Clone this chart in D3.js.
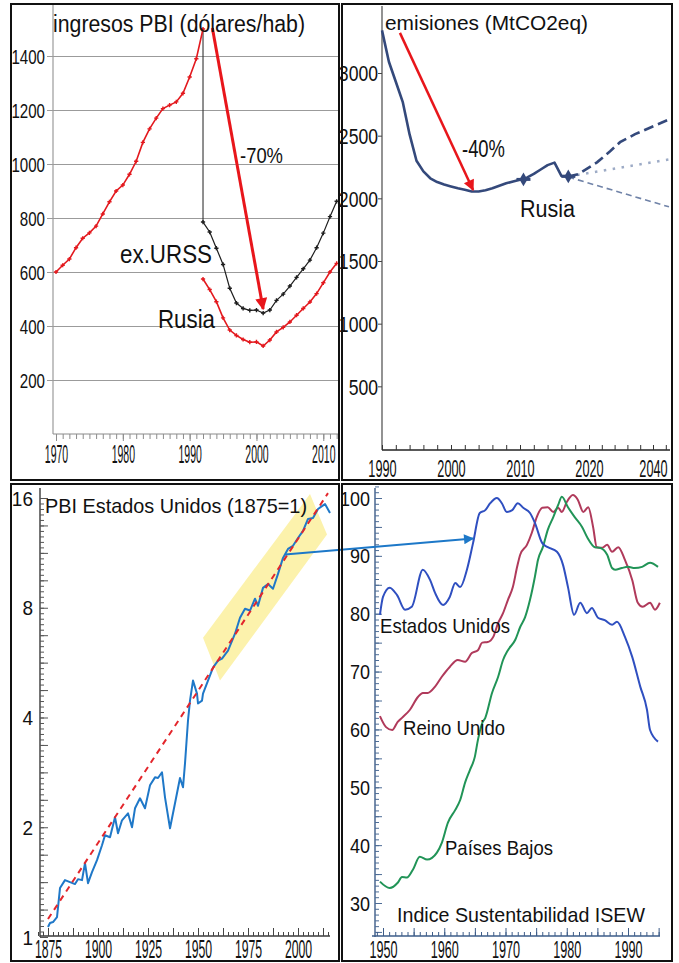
<!DOCTYPE html>
<html><head><meta charset="utf-8">
<script src="https://cdn.jsdelivr.net/npm/d3@7"></script>
<style>body{margin:0;background:#fff}svg{display:block}</style>
</head><body><svg id="c" width="679" height="963"></svg>
<script>
// ---------------- DATA ----------------
// Panel 1: ingresos PBI (dólares/hab)
const ussrYears = [1970,1971,1972,1973,1974,1975,1976,1977,1978,1979,1980,1981,1982,1983,1984,1985,1986,1987,1988,1989,1990,1991,1992];
const ussrGDP   = [600,625,648,690,725,745,770,815,860,900,922,962,1010,1080,1130,1170,1205,1218,1230,1262,1322,1390,1500];
const exUrssYears = [1992,1993,1994,1995,1996,1997,1998,1999,2000,2001,2002,2003,2004,2005,2006,2007,2008,2009,2010,2011,2012];
const exUrssGDP   = [785,748,688,628,540,485,465,458,459,448,459,495,518,548,580,612,644,690,744,805,862];
const rusYears = [1992,1993,1994,1995,1996,1997,1998,1999,2000,2001,2002,2003,2004,2005,2006,2007,2008,2009,2010,2011,2012];
const rusGDP   = [574,535,490,430,385,365,350,340,341,326,348,378,395,415,440,465,489,520,560,600,632];
const tlYTicks = [200,400,600,800,1000,1200,1400];
const tlXTicks = [1970,1980,1990,2000,2010];
const tlArrow = [[1993.4,1504],[2001,463]];

// Panel 2: emisiones (MtCO2eq)
const emisYears = [1990,1991,1992,1993,1994,1995,1996,1997,1998,1999,2000,2001,2002,2003,2004,2005,2006,2007,2008,2009,2010,2011,2012,2013,2014,2015,2016,2017];
const emisValues = [3340,3090,2930,2770,2510,2300,2215,2160,2130,2110,2095,2080,2068,2055,2055,2065,2080,2100,2120,2135,2148,2165,2195,2230,2265,2285,2180,2175];
const emisMarkYears = [2010.5,2017];
const emisMarkValues = [2151,2175];
const projHighYears = [2017,2018.4,2022.5,2026.6,2029.7,2034.4,2045];
const projHighValues = [2175,2191,2287,2376,2448,2512,2630];
const projMidYears = [2017,2045];
const projMidValues = [2175,2310];
const projLowYears = [2017,2045];
const projLowValues = [2170,1932];
const trYTicks = [500,1000,1500,2000,2500,3000];
const trXTicks = [1990,2000,2010,2020,2040];
const trArrow = [[1992.6,3320],[2003.2,2067]];

// Panel 3: PBI Estados Unidos (1875=1)
const usGdpYears = [1875,1876,1877.5,1879.5,1881,1883.5,1886,1888.5,1890,1892,1893.5,1895,1897,1899.5,1902,1903.5,1906,1908.5,1910,1912,1915,1917,1918.5,1921,1923.5,1926,1928.5,1930,1932,1933.5,1936,1938.5,1941,1942.5,1943.5,1945,1946,1947.5,1949.5,1950,1952,1952.5,1955,1957.5,1960,1962,1965,1968.5,1971,1973.5,1976,1978.5,1980,1982.5,1985,1987.5,1990,1992.5,1995,1997.5,2000,2002.5,2005,2007.5,2010,2012,2013.5,2016];
const usGdpValues = [1.065,1.092,1.099,1.134,1.362,1.432,1.414,1.397,1.441,1.432,1.594,1.405,1.506,1.625,1.785,1.901,1.878,2.13,1.926,2.09,2.184,2.0,2.254,2.401,2.254,2.606,2.741,2.73,2.83,2.416,1.987,2.327,2.73,2.574,2.993,3.925,4.45,5.05,4.65,4.37,4.45,4.65,5.05,5.48,5.73,5.8,6.1,6.79,7.51,7.95,7.86,8.47,8.1,9.07,9.3,9.02,9.91,10.96,11.6,11.83,12.43,13.0,14.02,14.1,14.93,15.2,15.4,14.56];
const trendYears = [1875,2015];
const trendValues = [1.12,16.5];
const bandYears = [1952.5,2006,2014.5,1961];
const bandValues = [6.62,16.4,12.7,5.05];
const blYTicks = [1,2,4,8,16];
const blXTicks = [1875,1900,1925,1950,1975,2000];
const linkFrom = [1993.5,11.2];   // point on US GDP
const linkTo = [1964.7,93];       // point on US ISEW

// Panel 4: Indice Sustentabilidad ISEW
const isewUSYears = [1949.5,1950,1951.1,1952.3,1953.6,1954.7,1956.5,1957.7,1958.5,1959.8,1960.9,1961.8,1962.6,1963.7,1964.7,1965.8,1966.7,1967.5,1968.6,1969.4,1970.2,1971.1,1972,1972.9,1974,1974.8,1976,1976.9,1978.4,1979.4,1980.2,1981.2,1982.2,1983.3,1984.1,1985.1,1986.2,1987.4,1988.2,1989.5,1990.7,1992,1993.1,1993.6,1994.9];
const isewUSValues = [79.8,82.9,84.5,83.2,80.7,81.2,87.6,85.8,83.6,81.5,82.9,85.3,84.6,87.6,92.2,97.4,97.9,99.1,100,99.1,97.6,97.9,99.1,98.3,97.4,95.7,92.2,91.5,90.7,88.4,84.6,79.8,81.9,80.1,81,79.3,78.9,78.1,78.6,76,72.5,67.4,63.4,59.9,57.9];
const isewUKYears = [1949.5,1950.5,1951.5,1952.4,1953.1,1954.4,1955.7,1956.5,1957.3,1958.5,1959.6,1960.9,1962.2,1963.4,1964.5,1965.5,1966.2,1967.1,1968,1968.8,1969.6,1970.4,1971.2,1971.9,1972.4,1973.5,1974.3,1975.1,1976,1976.9,1977.8,1978.6,1979.2,1980,1981,1981.8,1982.7,1983.5,1984.3,1984.9,1985.8,1986.6,1987.4,1988.4,1989.5,1990.7,1991.6,1992.4,1993.6,1994.4,1995.2];
const isewUKValues = [62.3,60.4,59.9,61.3,62,63.4,65.6,66.3,66.3,67.4,69.1,70.8,72,71.7,73.2,73.7,75,75.1,76,78.4,80.1,82.4,84.6,88.1,90.2,91.9,94,96.7,98.3,98.4,97.6,98.3,97.6,99.3,100.5,99.7,97.6,98.4,95,91.5,91.4,91.9,90.7,91.5,89.3,85.8,81.9,81.2,81.9,80.7,81.9];
const isewNLYears = [1949.5,1951.1,1952.4,1953.1,1953.9,1954.9,1956,1957.2,1958,1958.8,1959.6,1960.6,1961.8,1962.6,1963.4,1964.2,1965,1965.5,1966.2,1966.7,1967.8,1968.8,1969.6,1970.4,1971.6,1972.4,1973.2,1974,1974.8,1975.3,1976.1,1976.9,1977.8,1978.6,1979.2,1980.2,1981.3,1982.5,1983.4,1984.6,1985.4,1986.6,1987.4,1987.9,1989,1990,1991.1,1992.3,1993.6,1994.9];
const isewNLValues = [33.7,32.6,33.5,34.5,34.4,35.8,38,37.5,37.8,38.7,40.4,43.9,46.1,47.8,50.8,53,55.3,58.2,61.1,62,66.3,69.1,72,73.7,75.5,77.7,79.4,82.4,86.4,89.3,91.5,94.5,96.7,98.8,100.2,98.4,96.7,95,93.1,91.5,91.4,90.2,87.9,87.6,87.9,88.1,87.9,88.1,88.8,88.1];
const brYTicks = [30,40,50,60,70,80,90,100];
const brXTicks = [1950,1960,1970,1980,1990];

// ---------------- DRAWING ----------------
const FONT = '"Liberation Sans", Arial, Helvetica, sans-serif';
const zip = (a,b) => a.map((v,i)=>[v,b[i]]);
const svg = d3.select("#c");
svg.append("rect").attr("width",679).attr("height",963).attr("fill","#fff");
const defs = svg.append("defs");

function marker(id,color,len,wid){
  defs.append("marker").attr("id",id).attr("viewBox","0 0 10 10").attr("refX",9).attr("refY",5)
    .attr("markerUnits","userSpaceOnUse").attr("markerWidth",len).attr("markerHeight",wid).attr("orient","auto")
    .append("path").attr("d","M0,0 L10,5 L0,10 z").attr("fill",color);
}
marker("arrRed","#e8161b",20,12);
marker("arrRed2","#e8161b",18,11);
marker("arrBlue","#1d78c8",16,10);

function clip(id,x,y,w,h){
  defs.append("clipPath").attr("id",id).append("rect").attr("x",x).attr("y",y).attr("width",w).attr("height",h);
  return `url(#${id})`;
}
function label(txt,x,y,size,len){
  svg.append("text").attr("x",x).attr("y",y).attr("font-size",size).attr("fill","#111")
    .attr("textLength",len).attr("lengthAdjust","spacingAndGlyphs").style("font-family",FONT).text(txt);
}
function xLabels(scale,values,baseline,size,sx,fmt){
  const g = svg.append("g").attr("transform",`translate(0,${baseline})`)
    .call(d3.axisBottom(scale).tickValues(values).tickSize(0).tickFormat(fmt||d3.format("d")));
  g.select(".domain").remove();
  g.selectAll("text").attr("y",0).attr("dy",0).attr("fill","#111").attr("font-size",size)
    .style("font-family",FONT).attr("transform",`scale(${sx},1)`);
}
function yLabels(scale,values,rightX,size,sx,fmt){
  const g = svg.append("g").attr("transform",`translate(${rightX},0)`)
    .call(d3.axisLeft(scale).tickValues(values).tickSize(0).tickPadding(0).tickFormat(fmt||d3.format("d")));
  g.select(".domain").remove();
  g.selectAll("text").attr("x",0).attr("dy","0.35em").attr("fill","#111").attr("font-size",size)
    .style("font-family",FONT).attr("transform",`scale(${sx},1)`);
}
function ticks(axisFn,scale,values,size,tx,ty,color,sw){
  const g = svg.append("g").attr("transform",`translate(${tx},${ty})`)
    .call(axisFn(scale).tickValues(values).tickSize(size).tickFormat(""));
  g.select(".domain").remove();
  g.selectAll(".tick line").attr("stroke",color).attr("stroke-width",sw||1);
}
function hline(x1,x2,y,color,w){svg.append("line").attr("x1",x1).attr("x2",x2).attr("y1",y).attr("y2",y).attr("stroke",color).attr("stroke-width",w);}
function vline(x,y1,y2,color,w){svg.append("line").attr("x1",x).attr("x2",x).attr("y1",y1).attr("y2",y2).attr("stroke",color).attr("stroke-width",w);}

// ===== Panel 1 (top-left) =====
const tlX = d3.scaleLinear().domain([1970,2012.5]).range([56,340]);
const tlY = d3.scaleLinear().domain([0,1400]).range([434,56]);
const tlClip = clip("cTL",12,5,327,474);
{
  const g = svg.append("g").attr("transform","translate(53,0)")
    .call(d3.axisLeft(tlY).tickValues(tlYTicks).tickSizeInner(-286).tickSizeOuter(0).tickFormat(""));
  g.select(".domain").remove();
  g.selectAll(".tick line").attr("stroke","#9b9b9b").attr("stroke-width",1.2).attr("x2",286).attr("x1",-6);
}
vline(53,434,5,"#9b9b9b",1.2);
hline(53,339,434,"#8c8c8c",1.2);
ticks(d3.axisBottom,tlX,d3.range(1970,2013),5,0,434,"#8c8c8c",1);
ticks(d3.axisBottom,tlX,tlXTicks,7,0,434,"#8c8c8c",1);
yLabels(tlY,tlYTicks,45,21,0.72);
xLabels(tlX,tlXTicks,463,25,0.42);
{
  const line = d3.line().x(d=>tlX(d[0])).y(d=>tlY(d[1]));
  const g = svg.append("g").attr("clip-path",tlClip);
  const sym = d3.symbol().type(d3.symbolCross).size(10);
  const series = [
    [zip(ussrYears,ussrGDP),"#e3191e",1.6],
    [zip(exUrssYears,exUrssGDP),"#1e1e1e",1.2],
    [zip(rusYears,rusGDP),"#e3191e",1.6]
  ];
  // vertical link from the USSR peak to the ex-URSS start
  g.append("path").attr("d",line([[ussrYears[ussrYears.length-1],ussrGDP[ussrGDP.length-1]],[exUrssYears[0],exUrssGDP[0]]]))
    .attr("stroke","#333").attr("stroke-width",1.1).attr("fill","none");
  series.forEach(([d,c,w])=>{
    g.append("path").attr("d",line(d)).attr("fill","none").attr("stroke",c).attr("stroke-width",w);
    g.selectAll(null).data(d).join("path").attr("d",sym)
      .attr("transform",p=>`translate(${tlX(p[0])},${tlY(p[1])})`).attr("fill",c);
  });
  g.append("line").attr("x1",tlX(tlArrow[0][0])).attr("y1",tlY(tlArrow[0][1]))
    .attr("x2",tlX(tlArrow[1][0])).attr("y2",tlY(tlArrow[1][1]))
    .attr("stroke","#e8161b").attr("stroke-width",3).attr("marker-end","url(#arrRed)");
}
label("ingresos PBI (dólares/hab)",53,32,23,252);
label("-70%",240,163,22,43);
label("ex.URSS",120,263,25,92);
label("Rusia",158,328,25,57);

// ===== Panel 2 (top-right) =====
const trX = d3.scaleLinear().domain([1990,2020,2040]).range([382,589,653]);
const trY = d3.scaleLinear().domain([0,3000]).range([449,73]);
const trClip = clip("cTR",343,5,327,474);
vline(382,450,6,"#4a4a4a",1.2);
hline(382,670,450,"#222",1.6);
ticks(d3.axisTop,trX,d3.range(1990,2021,2).concat(d3.range(2024,2046,4)),5,0,450,"#333",1);
ticks(d3.axisLeft,trY,trYTicks,4,382,0,"#444",1);
yLabels(trY,trYTicks,378,22,0.8);
xLabels(trX,trXTicks,477,24,0.53);
{
  const line = d3.line().x(d=>trX(d[0])).y(d=>trY(d[1]));
  const g = svg.append("g").attr("clip-path",trClip);
  g.append("path").attr("d",line(zip(projLowYears,projLowValues))).attr("fill","none")
    .attr("stroke","#7083a8").attr("stroke-width",1.6).attr("stroke-dasharray","6,4");
  g.append("path").attr("d",line(zip(projMidYears,projMidValues))).attr("fill","none")
    .attr("stroke","#9dabc6").attr("stroke-width",2.6).attr("stroke-dasharray","2.5,6.5");
  g.append("path").attr("d",line(zip(projHighYears,projHighValues))).attr("fill","none")
    .attr("stroke","#34497b").attr("stroke-width",2.6).attr("stroke-dasharray","10,5");
  g.append("path").attr("d",line(zip(emisYears,emisValues))).attr("fill","none")
    .attr("stroke","#34497b").attr("stroke-width",2.6).attr("stroke-linejoin","round");
  const sym = d3.symbol().type(d3.symbolDiamond).size(55);
  g.selectAll(null).data(zip(emisMarkYears,emisMarkValues)).join("path").attr("d",sym)
    .attr("transform",p=>`translate(${trX(p[0])},${trY(p[1])})`).attr("fill","#34497b");
  g.selectAll(null).data(zip(emisMarkYears,emisMarkValues)).join("line")
    .attr("x1",p=>trX(p[0])-7).attr("x2",p=>trX(p[0])+7).attr("y1",p=>trY(p[1])).attr("y2",p=>trY(p[1]))
    .attr("stroke","#34497b").attr("stroke-width",3);
  g.append("line").attr("x1",trX(trArrow[0][0])).attr("y1",trY(trArrow[0][1]))
    .attr("x2",trX(trArrow[1][0])).attr("y2",trY(trArrow[1][1]))
    .attr("stroke","#e8161b").attr("stroke-width",2.5).attr("marker-end","url(#arrRed2)");
}
label("emisiones (MtCO2eq)",385,30,21,203);
label("-40%",462,157,23,43);
label("Rusia",520,217,23,55);

// ===== Panel 3 (bottom-left) =====
const blX = d3.scaleLinear().domain([1875,2000]).range([48,298]);
const blY = d3.scaleLog().base(2).domain([1,16]).range([937,498]);
const blClip = clip("cBL",41,486,297,450);
{
  const g = svg.append("g").attr("clip-path",blClip);
  g.append("path").attr("d",d3.line().x(d=>blX(d[0])).y(d=>blY(d[1])).curve(d3.curveLinearClosed)(zip(bandYears,bandValues)))
    .attr("fill","#fcf2ac").attr("stroke","none");
}
vline(40,937,488,"#3a3a3a",1.4);
hline(40,330,936,"#3a3a3a",1.4);
ticks(d3.axisRight,blY,d3.range(0,81).map(k=>Math.pow(2,k/20)),4,40,0,"#555",1);
ticks(d3.axisRight,blY,d3.range(0,17).map(k=>Math.pow(2,k/4)),8,40,0,"#555",1);
ticks(d3.axisTop,blX,d3.range(1870,2016,2.5),4,0,936,"#444",1);
ticks(d3.axisTop,blX,d3.range(1875,2016,12.5),8,0,936,"#444",1);
yLabels(blY,blYTicks,33,20,0.95,d3.format("d"));
xLabels(blX,blXTicks,958,25,0.49);
{
  const g = svg.append("g").attr("clip-path",blClip);
  const line = d3.line().x(d=>blX(d[0])).y(d=>blY(d[1]));
  g.append("path").attr("d",line(zip(usGdpYears,usGdpValues))).attr("fill","none")
    .attr("stroke","#1f78c8").attr("stroke-width",2).attr("stroke-linejoin","round");
  g.append("path").attr("d",line(zip(trendYears,trendValues))).attr("fill","none")
    .attr("stroke","#e3262c").attr("stroke-width",2).attr("stroke-dasharray","6,5");
}
label("PBI Estados Unidos (1875=1)",45,513,21,262);

// ===== Panel 4 (bottom-right) =====
const brX = d3.scaleLinear().domain([1950,1990]).range([383,628]);
const brY = d3.scaleLinear().domain([30,100]).range([903,498]);
const brClip = clip("cBR",376,486,294,450);
vline(375,937,488,"#3d5c88",1.4);
hline(372,660,936,"#3d5c88",1.6);
ticks(d3.axisRight,brY,d3.range(25,103,1),4,375,0,"#4d6c96",1);
ticks(d3.axisRight,brY,d3.range(25,103,5),7,375,0,"#4d6c96",1);
ticks(d3.axisTop,brX,d3.range(1949,1996,1),4,0,936,"#3d5c88",1);
ticks(d3.axisTop,brX,d3.range(1950,1996,5),8,0,936,"#3d5c88",1);
yLabels(brY,brYTicks,370,20,0.9);
xLabels(brX,brXTicks,958,23,0.55);
{
  const g = svg.append("g").attr("clip-path",brClip);
  const line = d3.line().x(d=>brX(d[0])).y(d=>brY(d[1])).curve(d3.curveMonotoneX);
  [[zip(isewUKYears,isewUKValues),"#b03a5b"],
   [zip(isewNLYears,isewNLValues),"#219457"],
   [zip(isewUSYears,isewUSValues),"#2f4fc0"]].forEach(([d,c])=>{
    g.append("path").attr("d",line(d)).attr("fill","none").attr("stroke",c).attr("stroke-width",2);
  });
}
label("Estados Unidos",380,633,21,130);
label("Reino Unido",403,735,21,102);
label("Países Bajos",445,855,21,108);
label("Indice Sustentabilidad ISEW",397,922,21,248);

// ===== link arrow between panels 3 and 4 =====
svg.append("line").attr("x1",blX(linkFrom[0])).attr("y1",blY(linkFrom[1]))
  .attr("x2",brX(linkTo[0])).attr("y2",brY(linkTo[1]))
  .attr("stroke","#1d78c8").attr("stroke-width",2).attr("marker-end","url(#arrBlue)");

// ===== panel frames =====
[[11,4,328,476],[342,4,330,476],[11,484,328,477],[342,484,330,477]].forEach(([x,y,w,h])=>{
  svg.append("rect").attr("x",x).attr("y",y).attr("width",w).attr("height",h)
    .attr("fill","none").attr("stroke","#111").attr("stroke-width",2);
});
</script></body></html>
